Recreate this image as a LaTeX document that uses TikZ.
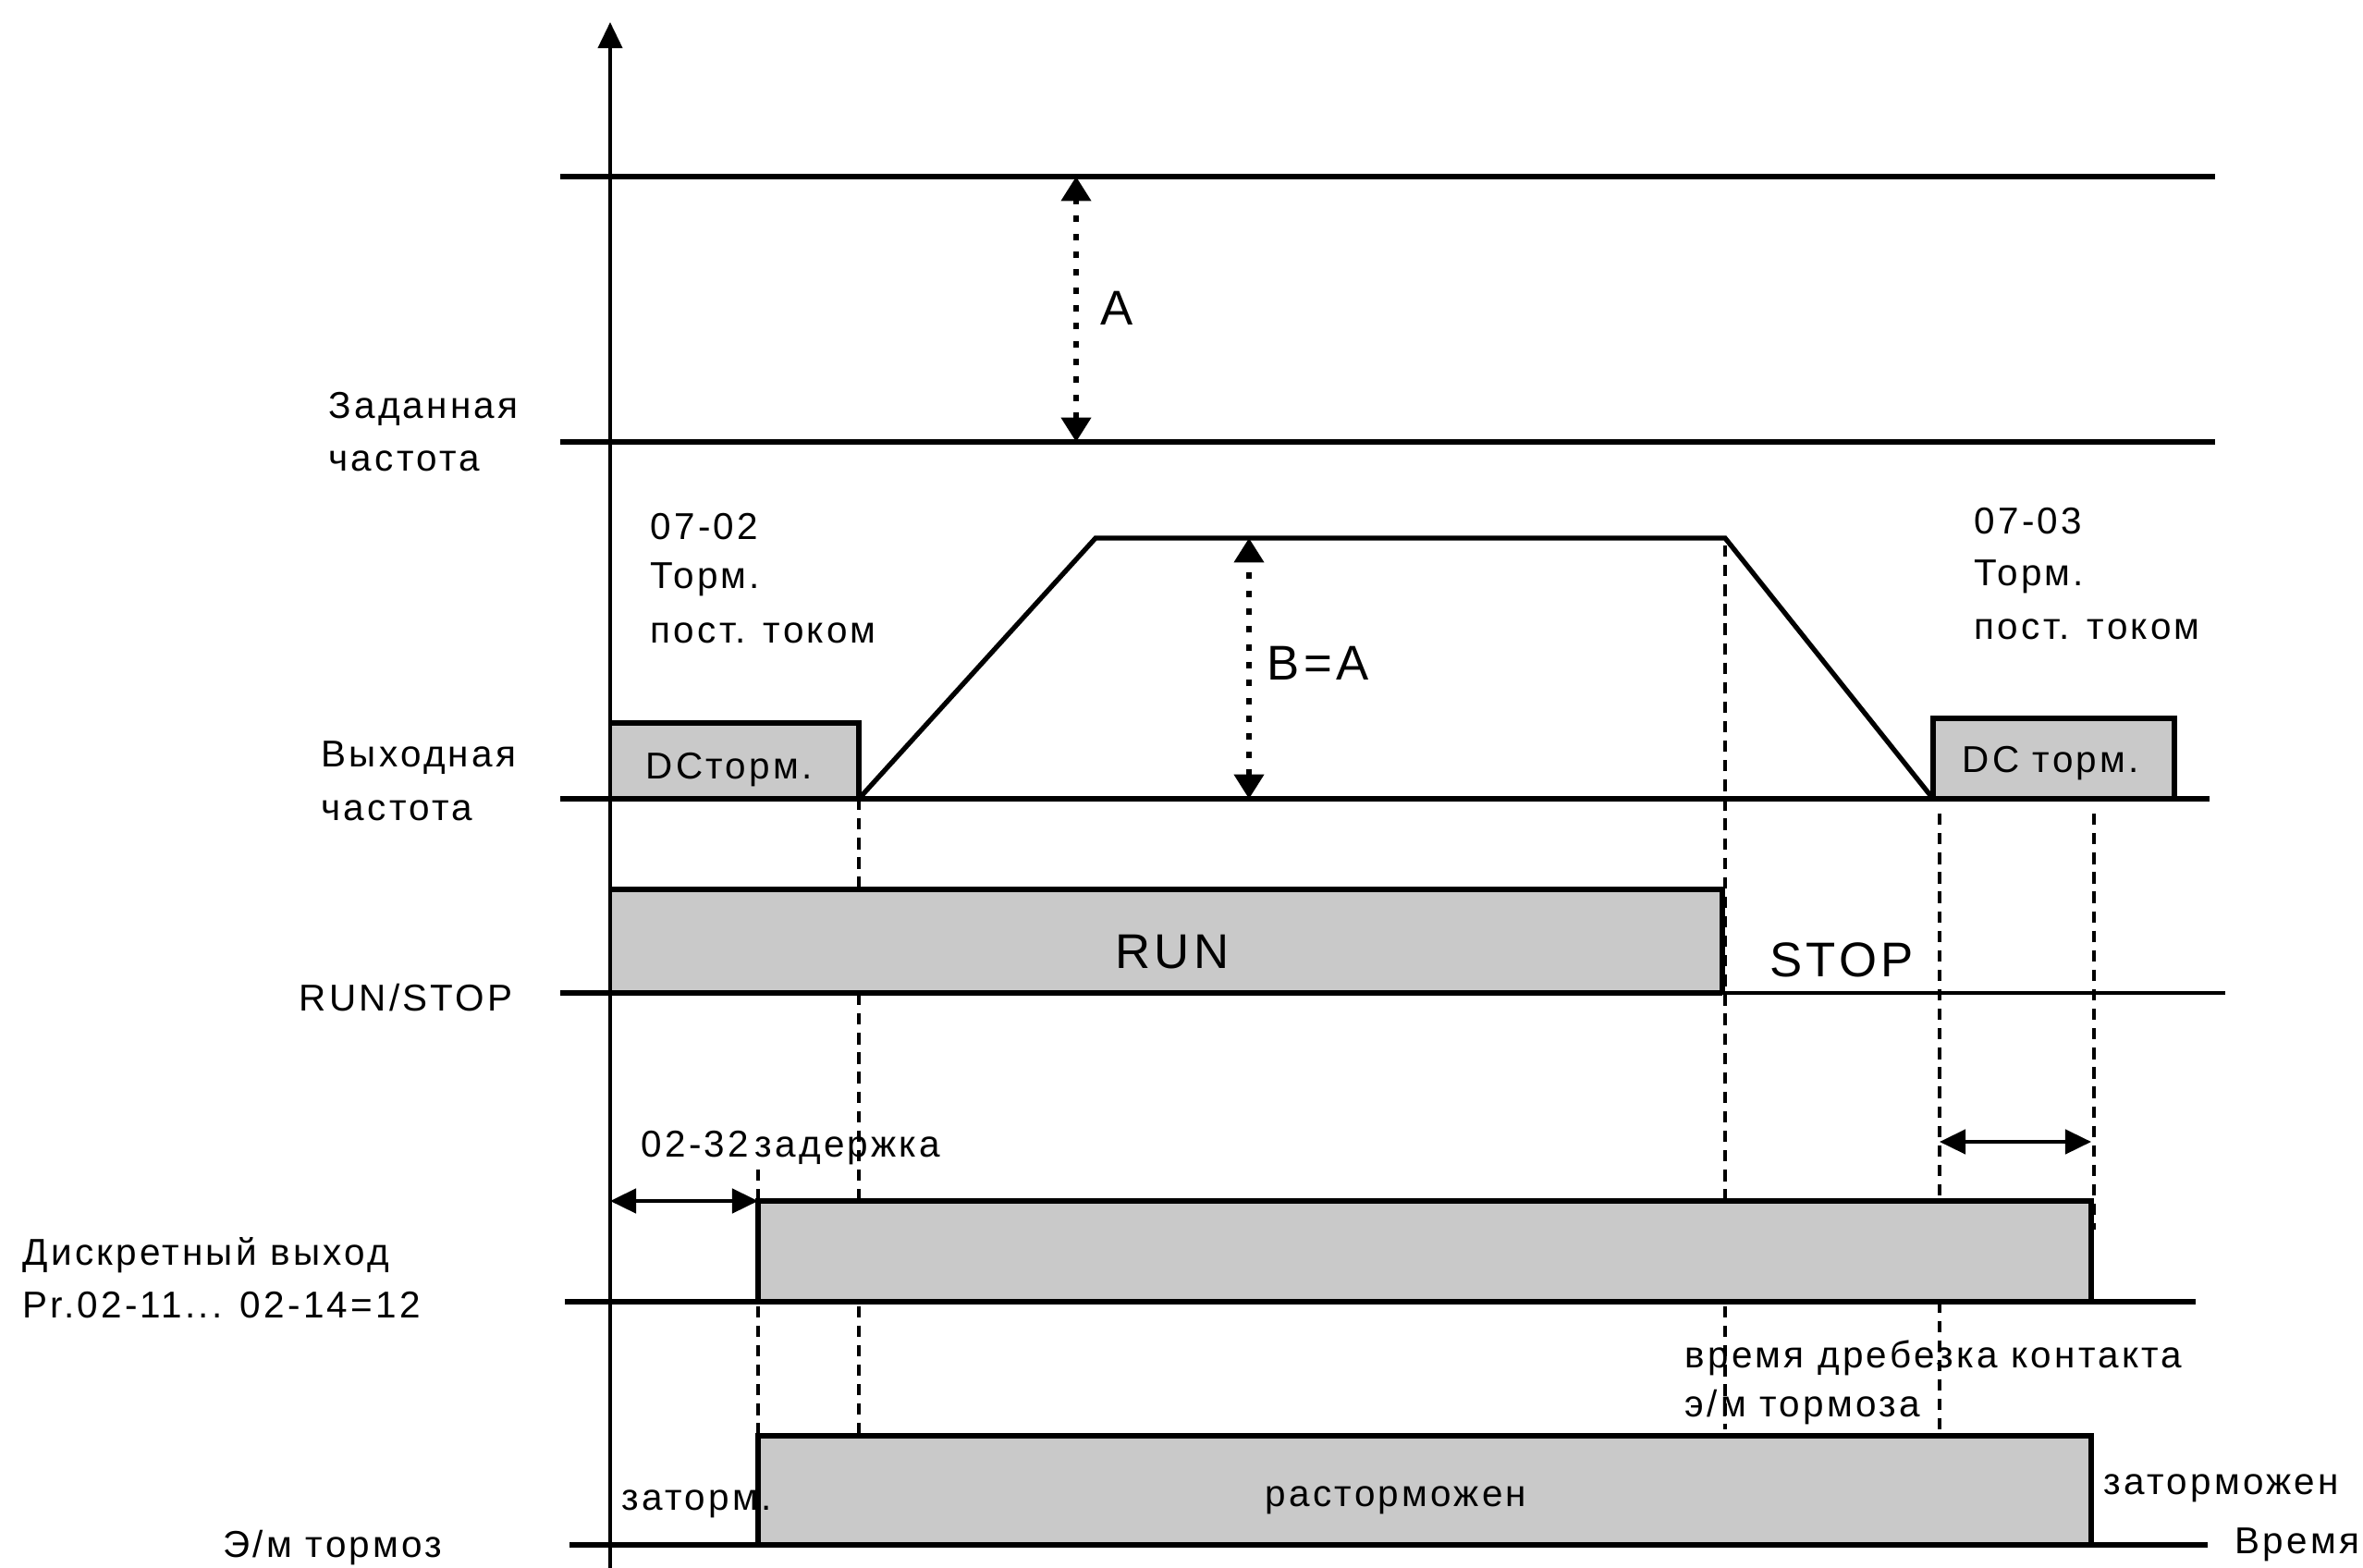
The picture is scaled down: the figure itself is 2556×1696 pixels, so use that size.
\documentclass[tikz,border=0pt]{standalone}
\usepackage{fontspec}
\setmainfont{Liberation Sans}[LetterSpace=8]
\usetikzlibrary{arrows.meta}
\definecolor{boxgray}{RGB}{201,201,201}
\begin{document}
\begin{tikzpicture}[x=0.01cm,y=-0.01cm,
  thickline/.style={line width=1.5pt},
  thinline/.style={line width=0.9pt},
  dashline/.style={line width=1.1pt,dash pattern=on 3.5pt off 2.5pt},
  dotarrow/.style={line width=1.5pt,dash pattern=on 2pt off 3.5pt,{Triangle[length=7.5pt,width=9pt]}-{Triangle[length=7.5pt,width=9pt]}},
  dimarrow/.style={line width=1.1pt,{Triangle[length=8pt,width=7.5pt]}-{Triangle[length=8pt,width=7.5pt]}},
  lbl/.style={inner sep=0pt,anchor=west,font=\fontsize{11.5}{14}\selectfont},
  big/.style={inner sep=0pt,font=\fontsize{15}{18}\selectfont},
  box/.style={fill=boxgray,draw=none}]
\useasboundingbox (0,0) rectangle (2556,1696);

% key coordinates
\coordinate (ax0) at (660,1696);
\coordinate (ax1) at (660,24);
\coordinate (t1a) at (606,191);  \coordinate (t1b) at (2396,191);
\coordinate (t2a) at (606,478);  \coordinate (t2b) at (2396,478);
\coordinate (oba) at (606,864);  \coordinate (obb) at (2390,864);
\coordinate (rsa) at (606,1074); \coordinate (rsm) at (1863,1074); \coordinate (rsb) at (2407,1074);
\coordinate (dba) at (611,1408); \coordinate (dbb) at (2375,1408);
\coordinate (bba) at (616,1671); \coordinate (bbb) at (2388,1671);

% dashed guide lines (behind the boxes)
\coordinate (d1a) at (929,864);  \coordinate (d1b) at (929,1553);
\coordinate (d2a) at (820,1265); \coordinate (d2b) at (820,1553);
\coordinate (d3a) at (1866,590); \coordinate (d3b) at (1866,1546);
\coordinate (d4a) at (2098,880); \coordinate (d4b) at (2098,1553);
\coordinate (d5a) at (2265,880); \coordinate (d5b) at (2265,1330);
\draw[dashline] (d1a) -- (d1b);
\draw[dashline] (d2a) -- (d2b);
\draw[dashline] (d3a) -- (d3b);
\draw[dashline] (d4a) -- (d4b);
\draw[dashline] (d5a) -- (d5b);

% filled boxes
\fill[boxgray] (660,782) rectangle (929,864);
\fill[boxgray] (2091,777) rectangle (2352,864);
\fill[boxgray] (660,962) rectangle (1863,1074);
\fill[boxgray] (820,1299) rectangle (2262,1408);
\fill[boxgray] (820,1553) rectangle (2262,1671);

% axis
\draw[thinline,-{Triangle[length=8pt,width=7.5pt]}] (ax0) -- (ax1);

% set frequency lines
\draw[thickline] (t1a) -- (t1b);
\draw[thickline] (t2a) -- (t2b);
\coordinate (aa) at (1164,191); \coordinate (ab) at (1164,478);
\draw[dotarrow] (ab) -- (aa);

% output frequency
\draw[thickline] (oba) -- (obb);
\draw[thickline] (660,782) -- (929,782) -- (929,864);
\draw[thickline] (929,864) -- (1185,582) -- (1866,582) -- (2091,864);
\draw[thickline] (2091,864) -- (2091,777) -- (2352,777) -- (2352,864);
\coordinate (ba) at (1351,582); \coordinate (bb) at (1351,864);
\draw[dotarrow] (bb) -- (ba);

% RUN / STOP
\draw[thickline] (660,962) -- (1863,962) -- (rsm);
\draw[thickline] (rsa) -- (rsm);
\draw[thinline] (rsm) -- (rsb);

% digital output
\draw[thickline] (dba) -- (dbb);
\draw[thickline] (820,1408) -- (820,1299) -- (2262,1299) -- (2262,1408);
\coordinate (q1) at (660,1299); \coordinate (q2) at (820,1299);
\draw[dimarrow] (q1) -- (q2);
\coordinate (r1) at (2098,1235); \coordinate (r2) at (2262,1235);
\draw[dimarrow] (r1) -- (r2);

% brake
\draw[thickline] (bba) -- (bbb);
\draw[thickline] (820,1671) -- (820,1553) -- (2262,1553) -- (2262,1671);

% labels
\node[lbl] (zad1) at (355,442) {Заданная};
\node[lbl] (zad2) at (355,499) {частота};
\node[lbl] (p1a) at (703,570) {07-02};
\node[lbl] (p1b) at (703,627) {Торм.};
\node[lbl] (p1c) at (703,685) {пост. током};
\node[lbl] (vyh1) at (347,820) {Выходная};
\node[lbl] (vyh2) at (347,877) {частота};
\node[lbl] (p2a) at (2135,564) {07-03};
\node[lbl] (p2b) at (2135,624) {Торм.};
\node[lbl] (p2c) at (2135,681) {пост. током};
\node[lbl] (rs) at (323,1079) {RUN/STOP};
\node[lbl] (del) at (693,1242) {02-32\,задержка};
\node[lbl] (dis1) at (24,1358) {Дискретный выход};
\node[lbl] (dis2) at (24,1412) {Pr.02-11... 02-14=12};
\node[lbl] (bt1) at (1822,1469) {время дребезка контакта};
\node[lbl] (bt2) at (1822,1522) {э/м тормоза};
\node[lbl] (zt) at (672,1627) {заторм.};
\node[lbl,anchor=center] (rast) at (1510,1623) {расторможен};
\node[lbl] (ztm) at (2275,1610) {заторможен};
\node[lbl] (em) at (241,1674) {Э/м тормоз};
\node[lbl] (vr) at (2417,1671) {Время};
\node[lbl] (dc1) at (698,833) {DCторм.};
\node[lbl] (dc2) at (2122,826) {DC торм.};
\node[big] (run) at (1268,1030) {RUN};
\node[big] (stop) at (1992,1038) {STOP};
\node[big,anchor=west] (la) at (1190,333) {A};
\node[big,anchor=west] (lb) at (1370,717) {B=A};
\end{tikzpicture}
\end{document}
